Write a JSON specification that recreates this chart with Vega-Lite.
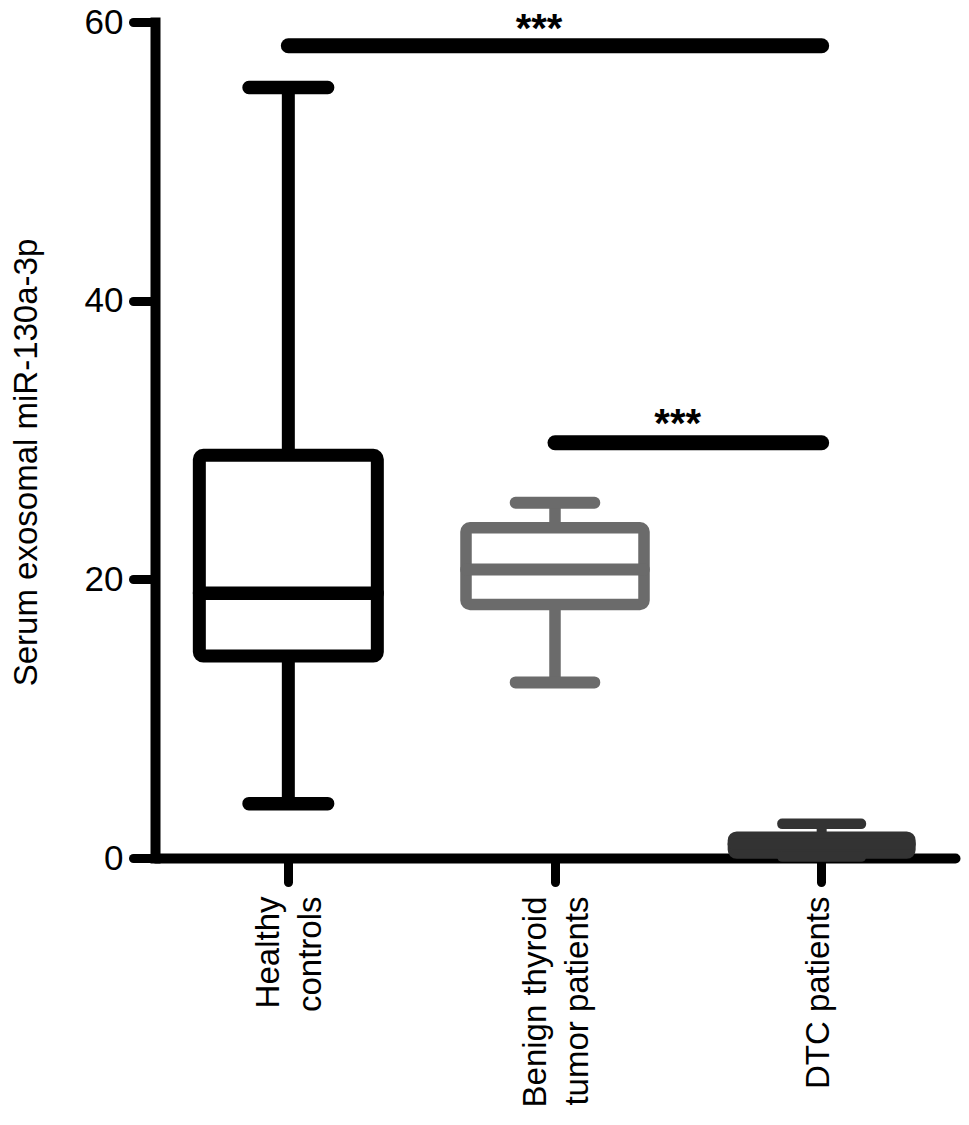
{
  "$schema": "https://vega.github.io/schema/vega-lite/v6.json",
  "width": 800,
  "height": 836,
  "autosize": {"type": "none"},
  "padding": {"left": 155, "top": 22, "right": 14, "bottom": 267},
  "background": "white",
  "config": {
    "view": {"stroke": null},
    "font": "Liberation Sans",
    "axis": {"grid": false, "domainColor": "black", "tickColor": "black", "labelColor": "black", "titleColor": "black", "labelFont": "Liberation Sans", "titleFont": "Liberation Sans"}
  },
  "datasets": {
    "boxes": [
      {"group": "Healthy controls", "lower": 3.9, "q1": 14.5, "median": 19.0, "q3": 28.9, "upper": 55.3},
      {"group": "Benign thyroid tumor patients", "lower": 12.6, "q1": 18.2, "median": 20.7, "q3": 23.7, "upper": 25.5},
      {"group": "DTC patients", "lower": 0.1, "q1": 0.3, "median": 1.0, "q3": 1.55, "upper": 2.45}
    ],
    "sig": [
      {"from": "Healthy controls", "to": "DTC patients", "y": 58.3, "label": "***"},
      {"from": "Benign thyroid tumor patients", "to": "DTC patients", "y": 29.8, "label": "***"}
    ]
  },
  "encoding": {
    "x": {
      "field": "group", "type": "nominal",
      "sort": ["Healthy controls", "Benign thyroid tumor patients", "DTC patients"],
      "scale": {"type": "band", "domain": ["Healthy controls", "Benign thyroid tumor patients", "DTC patients"], "paddingInner": 0, "paddingOuter": 0},
      "axis": {
        "title": null,
        "labelAngle": -90,
        "labelAlign": "right",
        "labelBaseline": "middle",
        "labelFontSize": 33,
        "labelLineHeight": 42,
        "labelLimit": 0,
        "labelPadding": 14,
        "labelOffset": {"condition": {"test": "datum.value == 'DTC patients'", "value": -3}, "value": -19},
        "tickSize": 24,
        "tickWidth": 9,
        "tickCap": "round",
        "domainWidth": 10,
        "domainCap": "round",
        "labelExpr": "datum.value == 'Healthy controls' ? ['Healthy', 'controls'] : datum.value == 'Benign thyroid tumor patients' ? ['Benign thyroid', 'tumor patients'] : datum.value"
      }
    }
  },
  "layer": [
    {
      "data": {"name": "boxes"},
      "layer": [
        {
          "mark": {"type": "rule", "strokeCap": "butt"},
          "encoding": {
            "y": {"field": "lower", "type": "quantitative", "scale": {"domain": [0, 60], "nice": false, "zero": true},
              "axis": {"values": [0, 20, 40, 60], "title": "Serum exosomal miR-130a-3p", "titleFontSize": 33, "titleFontWeight": "normal", "titlePadding": 41, "titleY": 440, "labelFontSize": 35, "labelPadding": 10, "tickSize": 22, "tickWidth": 9, "tickCap": "round", "domainWidth": 10, "domainCap": "square"}},
            "y2": {"field": "upper"},
            "color": {"field": "group", "type": "nominal", "scale": {"domain": ["Healthy controls", "Benign thyroid tumor patients", "DTC patients"], "range": ["#000000", "#6b6b6b", "#333333"]}, "legend": null},
            "strokeWidth": {"field": "group", "type": "nominal", "scale": {"domain": ["Healthy controls", "Benign thyroid tumor patients", "DTC patients"], "range": [13, 10, 13]}, "legend": null}
          }
        },
        {
          "mark": {"type": "bar", "size": 178, "strokeJoin": "round", "cornerRadius": 4},
          "encoding": {
            "y": {"field": "q1", "type": "quantitative"},
            "y2": {"field": "q3"},
            "stroke": {"field": "group", "type": "nominal", "scale": {"domain": ["Healthy controls", "Benign thyroid tumor patients", "DTC patients"], "range": ["#000000", "#6b6b6b", "#333333"]}, "legend": null},
            "fill": {"field": "group", "type": "nominal", "scale": {"domain": ["Healthy controls", "Benign thyroid tumor patients", "DTC patients"], "range": ["#ffffff", "#ffffff", "#333333"]}, "legend": null},
            "strokeWidth": {"field": "group", "type": "nominal", "scale": {"domain": ["Healthy controls", "Benign thyroid tumor patients", "DTC patients"], "range": [13, 10, 13]}, "legend": null},
            "opacity": {"value": 1}
          }
        },
        {
          "mark": {"type": "tick", "size": 178, "thickness": 0.5, "strokeJoin": "round"},
          "encoding": {
            "y": {"field": "median", "type": "quantitative"},
            "stroke": {"field": "group", "type": "nominal", "scale": {"domain": ["Healthy controls", "Benign thyroid tumor patients", "DTC patients"], "range": ["#000000", "#6b6b6b", "#333333"]}, "legend": null},
            "fill": {"field": "group", "type": "nominal", "scale": {"domain": ["Healthy controls", "Benign thyroid tumor patients", "DTC patients"], "range": ["#000000", "#6b6b6b", "#333333"]}, "legend": null},
            "strokeWidth": {"field": "group", "type": "nominal", "scale": {"domain": ["Healthy controls", "Benign thyroid tumor patients", "DTC patients"], "range": [13, 10, 13]}, "legend": null},
            "opacity": {"value": 1}
          }
        },
        {
          "mark": {"type": "tick", "size": 79, "thickness": 0.5, "strokeJoin": "round"},
          "encoding": {
            "y": {"field": "upper", "type": "quantitative"},
            "stroke": {"field": "group", "type": "nominal", "scale": {"domain": ["Healthy controls", "Benign thyroid tumor patients", "DTC patients"], "range": ["#000000", "#6b6b6b", "#333333"]}, "legend": null},
            "fill": {"field": "group", "type": "nominal", "scale": {"domain": ["Healthy controls", "Benign thyroid tumor patients", "DTC patients"], "range": ["#000000", "#6b6b6b", "#333333"]}, "legend": null},
            "strokeWidth": {"field": "group", "type": "nominal", "scale": {"domain": ["Healthy controls", "Benign thyroid tumor patients", "DTC patients"], "range": [13, 10, 13]}, "legend": null},
            "opacity": {"value": 1}
          }
        },
        {
          "mark": {"type": "tick", "size": 79, "thickness": 0.5, "strokeJoin": "round"},
          "encoding": {
            "y": {"field": "lower", "type": "quantitative"},
            "stroke": {"field": "group", "type": "nominal", "scale": {"domain": ["Healthy controls", "Benign thyroid tumor patients", "DTC patients"], "range": ["#000000", "#6b6b6b", "#333333"]}, "legend": null},
            "fill": {"field": "group", "type": "nominal", "scale": {"domain": ["Healthy controls", "Benign thyroid tumor patients", "DTC patients"], "range": ["#000000", "#6b6b6b", "#333333"]}, "legend": null},
            "strokeWidth": {"field": "group", "type": "nominal", "scale": {"domain": ["Healthy controls", "Benign thyroid tumor patients", "DTC patients"], "range": [13, 10, 13]}, "legend": null},
            "opacity": {"value": 1}
          }
        }
      ]
    },
    {
      "data": {"name": "sig"},
      "mark": {"type": "rule", "strokeWidth": 15, "strokeCap": "round", "color": "black"},
      "encoding": {
        "x": {"field": "from", "type": "nominal"},
        "x2": {"field": "to"},
        "y": {"field": "y", "type": "quantitative"}
      }
    },
    {
      "data": {"values": [{"group": "Benign thyroid tumor patients", "y": 58.6, "label": "***"}]},
      "mark": {"type": "text", "fontSize": 40, "fontWeight": "bold", "color": "black", "baseline": "alphabetic", "align": "center"},
      "encoding": {
        "x": {"field": "group", "type": "nominal", "bandPosition": 0.44},
        "y": {"field": "y", "type": "quantitative"},
        "text": {"field": "label"}
      }
    },
    {
      "data": {"values": [{"group": "DTC patients", "y": 30.2, "label": "***"}]},
      "mark": {"type": "text", "fontSize": 40, "fontWeight": "bold", "color": "black", "baseline": "alphabetic", "align": "center"},
      "encoding": {
        "x": {"field": "group", "type": "nominal", "bandPosition": -0.04},
        "y": {"field": "y", "type": "quantitative"},
        "text": {"field": "label"}
      }
    }
  ]
}
